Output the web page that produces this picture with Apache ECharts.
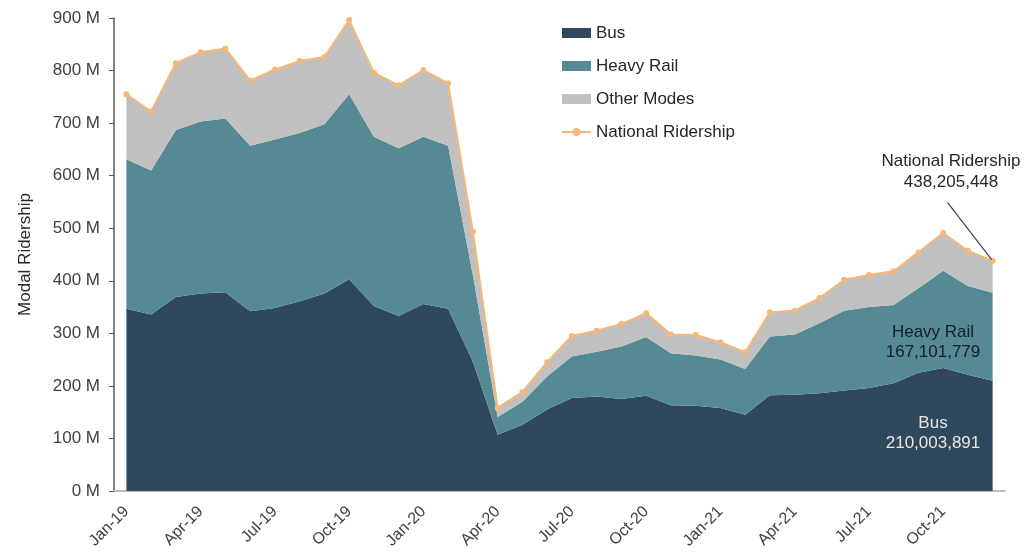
<!DOCTYPE html>
<html>
<head>
<meta charset="utf-8">
<title>Modal Ridership</title>
<script src="https://cdn.jsdelivr.net/npm/echarts@6/dist/echarts.min.js"></script>
<style>
html, body { margin: 0; padding: 0; background: #fff; }
#myChart { width: 1032px; height: 555px; }
</style>
</head>
<body>
<div id="myChart"></div>
<script>
// monthly categories
const months = [
  'Jan-19', 'Feb-19', 'Mar-19', 'Apr-19', 'May-19', 'Jun-19', 'Jul-19', 'Aug-19', 'Sep-19', 'Oct-19', 'Nov-19', 'Dec-19',
  'Jan-20', 'Feb-20', 'Mar-20', 'Apr-20', 'May-20', 'Jun-20', 'Jul-20', 'Aug-20', 'Sep-20', 'Oct-20', 'Nov-20', 'Dec-20',
  'Jan-21', 'Feb-21', 'Mar-21', 'Apr-21', 'May-21', 'Jun-21', 'Jul-21', 'Aug-21', 'Sep-21', 'Oct-21', 'Nov-21', 'Dec-21'
]
// ridership in millions
const bus = [
  347, 336, 369, 376, 378, 342, 348, 361, 376, 403, 352, 333,
  356, 347, 246, 107, 126, 155, 177, 180, 175, 181, 163, 162,
  158, 145, 182, 183, 186, 191, 196, 205, 225, 234, 221, 210.0
]
const heavyRail = [
  284, 274, 318, 327, 331, 315, 321, 320, 322, 352, 322, 319,
  318, 310, 165, 34, 44, 63, 79, 85, 100, 112, 99, 96,
  92, 87, 112, 115, 133, 152, 154, 149, 161, 185, 169, 167.1
]
const otherModes = [
  124, 112, 127, 132, 133, 124, 133, 137, 128, 141, 122, 120,
  127, 119, 83, 17, 18, 27, 39, 40, 43, 45, 36, 39,
  33, 32, 46, 45, 48, 59, 61, 64, 68, 72, 67, 61.1
]
const national = [
  755, 722, 814, 835, 842, 781, 802, 818, 826, 896, 796, 772,
  801, 776, 494, 158, 188, 245, 295, 305, 318, 338, 298, 297,
  283, 264, 340, 343, 367, 402, 411, 418, 454, 491, 457, 438.2
]
const fontName = 'Liberation Sans, Arial, sans-serif'

let myChart = echarts.init(document.getElementById('myChart'))

function areaSeries (name, data, color) {
  return {
    name: name,
    type: 'line',
    stack: 'modes',
    data: data,
    symbol: 'none',
    lineStyle: { width: 0 },
    areaStyle: { color: color, opacity: 1 },
    itemStyle: { color: color }
  }
}

myChart.setOption({
  animation: false,
  textStyle: { fontFamily: fontName },
  grid: { left: 114, right: 27, top: 18, bottom: 64 },
  legend: {
    orient: 'vertical',
    left: 556,
    top: 19,
    itemWidth: 29,
    itemHeight: 10,
    itemGap: 15,
    textStyle: { fontSize: 17, color: '#262626', lineHeight: 18 },
    data: [
      { name: 'Bus', icon: 'rect' },
      { name: 'Heavy Rail', icon: 'rect' },
      { name: 'Other Modes', icon: 'rect' },
      { name: 'National Ridership' }
    ]
  },
  xAxis: {
    type: 'category',
    data: months,
    boundaryGap: true,
    axisLine: { lineStyle: { color: '#bfbfbf', width: 2 } },
    axisTick: { show: false },
    axisLabel: { interval: 2, rotate: 45, fontSize: 16, color: '#404040', margin: 18 }
  },
  yAxis: {
    type: 'value',
    min: 0,
    max: 900,
    interval: 100,
    name: 'Modal Ridership',
    nameLocation: 'middle',
    nameGap: 80,
    nameTextStyle: { fontSize: 17, color: '#262626' },
    axisLine: { show: true, lineStyle: { color: '#595959', width: 1.5 } },
    axisTick: { show: true, length: 5, lineStyle: { color: '#595959' } },
    splitLine: { show: false },
    axisLabel: { formatter: '{value} M', fontSize: 17, color: '#404040', margin: 14 }
  },
  series: [
    areaSeries('Bus', bus, '#2f485d'),
    areaSeries('Heavy Rail', heavyRail, '#558a94'),
    areaSeries('Other Modes', otherModes, '#c0c0c0'),
    {
      name: 'National Ridership',
      type: 'line',
      data: national,
      symbol: 'circle',
      symbolSize: 6,
      lineStyle: { color: '#f6b878', width: 2 },
      itemStyle: { color: '#f6b878' }
    }
  ]
})

// annotations at the last month
const last = months.length - 1
const endPt = myChart.convertToPixel({ gridIndex: 0 }, [last, national[last]])
const txt = (text, x, y, fill) => ({
  type: 'text',
  z: 100,
  style: { text: text, x: x, y: y, textAlign: 'center', textVerticalAlign: 'middle', font: '17px ' + fontName, fill: fill }
})
myChart.setOption({
  graphic: [
    { type: 'line', z: 100, shape: { x1: endPt[0] - 45, y1: endPt[1] - 58, x2: endPt[0] - 1, y2: endPt[1] - 1 }, style: { stroke: '#404040', lineWidth: 1.2 } },
    txt('National Ridership', 951, 161, '#262626'),
    txt('438,205,448', 951, 182, '#262626'),
    txt('Heavy Rail', 933, 332, '#151e26'),
    txt('167,101,779', 933, 352, '#151e26'),
    txt('Bus', 933, 423, '#e6e6e6'),
    txt('210,003,891', 933, 443, '#e6e6e6')
  ]
})
</script>
</body>
</html>
